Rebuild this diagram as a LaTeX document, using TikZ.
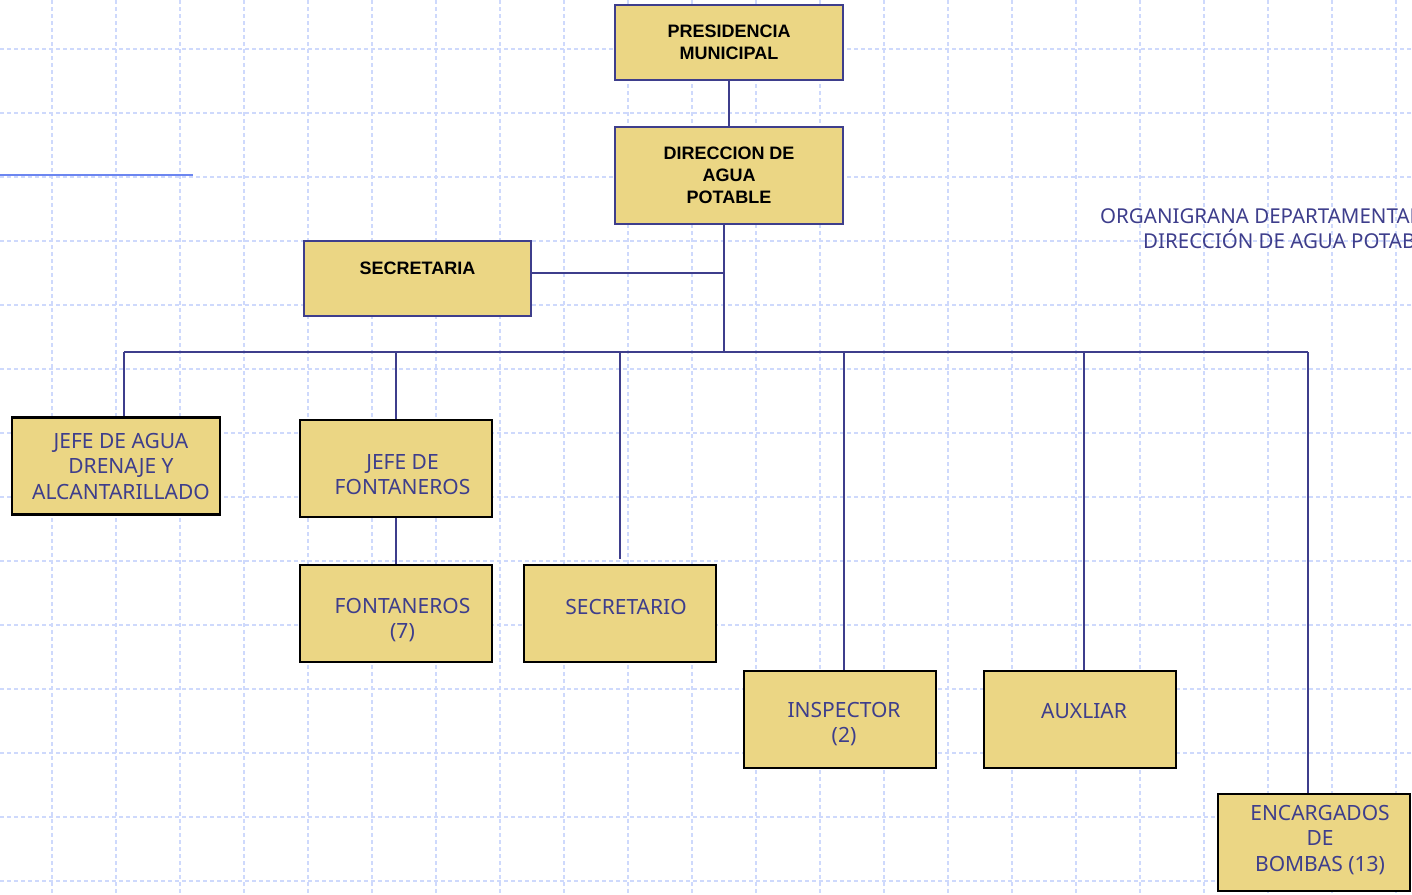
\documentclass[tikz,border=0pt]{standalone}
\usepackage{fontspec}
\setmainfont{Noto Sans}
\newfontfamily\arialfont{Liberation Sans}
\usetikzlibrary{positioning}

\definecolor{amarillo}{RGB}{235,214,132}
\definecolor{azulosc}{RGB}{62,62,140}
\definecolor{azulrej}{RGB}{206,217,252}
\definecolor{azullin}{RGB}{108,134,240}

\tikzset{
  cajaDir/.style={draw=azulosc, line width=2.7pt, fill=amarillo, inner sep=0pt,
    minimum width=228pt, align=center, text=black,
    font=\arialfont\bfseries\fontsize{18}{22}\selectfont},
  cajaPuesto/.style={draw=black, line width=2.7pt, fill=amarillo, inner sep=0pt,
    minimum width=192pt, minimum height=97pt},
  txtPuesto/.style={align=center, inner sep=0pt, text=azulosc,
    font=\fontsize{21}{25.5}\selectfont},
  linea/.style={draw=azulosc, line width=2.6pt},
  rejilla/.style={draw=azulrej, line width=1.6pt, dash pattern=on 4pt off 3pt}
}

\begin{document}
\begin{tikzpicture}[x=1pt,y=-1pt]

  \clip (0,0) rectangle (1412,894);
  \fill[white] (0,0) rectangle (1412,894);

  % fondo cuadriculado
  \foreach \gx in {52,116,...,1396}
    \draw[rejilla] (\gx,0) -- (\gx,894);
  \foreach \gy in {49,113,...,881}
    \draw[rejilla] (0,\gy) -- (1412,\gy);

  \draw[azullin, line width=2.6pt] (0,175) -- (193,175);

  \node[anchor=north west, inner sep=0pt, align=left, text=azulosc,
    font=\fontsize{20.5}{25}\selectfont] (Titulo) at (1100,208.5)
    {ORGANIGRANA DEPARTAMENTAL\\\hspace*{43pt}DIRECCIÓN DE AGUA POTABLE};

  \node[cajaDir, minimum height=75pt] (PresMun) at (729,42.5) {PRESIDENCIA\\MUNICIPAL};
  \node[cajaDir, minimum height=97pt] (DirAgua) at (729,175.5) {DIRECCION DE\\AGUA\\POTABLE};
  \node[cajaDir, minimum width=227pt, minimum height=75pt,
    label={[font=\arialfont\bfseries\fontsize{18}{22}\selectfont, yshift=10.5pt]center:SECRETARIA}]
    (Secretaria) at (417.5,278.5) {};

  \node[cajaPuesto, minimum width=208pt,
    label={[txtPuesto, xshift=5pt]center:{JEFE DE AGUA\\DRENAJE Y\\ALCANTARILLADO}}]
    (JefeAgua) at (116,466) {};
  \node[cajaPuesto,
    label={[txtPuesto, xshift=6.5pt, yshift=-6pt]center:{JEFE DE\\FONTANEROS}}]
    (JefeFont) at (396,468.5) {};
  \node[cajaPuesto,
    label={[txtPuesto, xshift=6.5pt, yshift=-6.5pt]center:{FONTANEROS\\(7)}}]
    (Fontaneros) at (396,613.5) {};
  \node[cajaPuesto,
    label={[txtPuesto, xshift=6pt, yshift=6.5pt]center:SECRETARIO}]
    (Secretario) at (620,613.5) {};
  \node[cajaPuesto,
    label={[txtPuesto, xshift=4pt, yshift=-4.5pt]center:{INSPECTOR\\(2)}}]
    (Inspector) at (840,719.5) {};
  \node[cajaPuesto,
    label={[txtPuesto, xshift=4pt, yshift=8.5pt]center:AUXLIAR}]
    (Auxliar) at (1080,719.5) {};
  \node[cajaPuesto,
    label={[txtPuesto, xshift=6pt, yshift=2.5pt]center:{ENCARGADOS\\DE\\BOMBAS (13)}}]
    (Encargados) at (1314,842.5) {};

  % lineas
  \coordinate (Bus) at (724,352);
  \coordinate (SecJoin) at (724,273);
  \coordinate (bA) at (124,352);
  \coordinate (bF) at (396,352);
  \coordinate (bS) at (620,352);
  \coordinate (bI) at (844,352);
  \coordinate (bX) at (1084,352);
  \coordinate (bE) at (1308,352);

  \draw[linea] (PresMun) -- (DirAgua);
  \draw[linea] (DirAgua.south -| Bus) -- (Bus);
  \draw[linea] (SecJoin -| Secretaria.east) -- (SecJoin);
  \draw[linea] (bA) -- (bE);
  \draw[linea] (bA) -- (bA |- JefeAgua.north);
  \draw[linea] (bF) -- (JefeFont.north);
  \draw[linea] (JefeFont) -- (Fontaneros);
  \draw[linea] (bS) -- ([yshift=5pt]bS |- Secretario.north);
  \draw[linea] (bI) -- (bI |- Inspector.north);
  \draw[linea] (bX) -- (bX |- Auxliar.north);
  \draw[linea] (bE) -- (bE |- Encargados.north);

\end{tikzpicture}
\end{document}
